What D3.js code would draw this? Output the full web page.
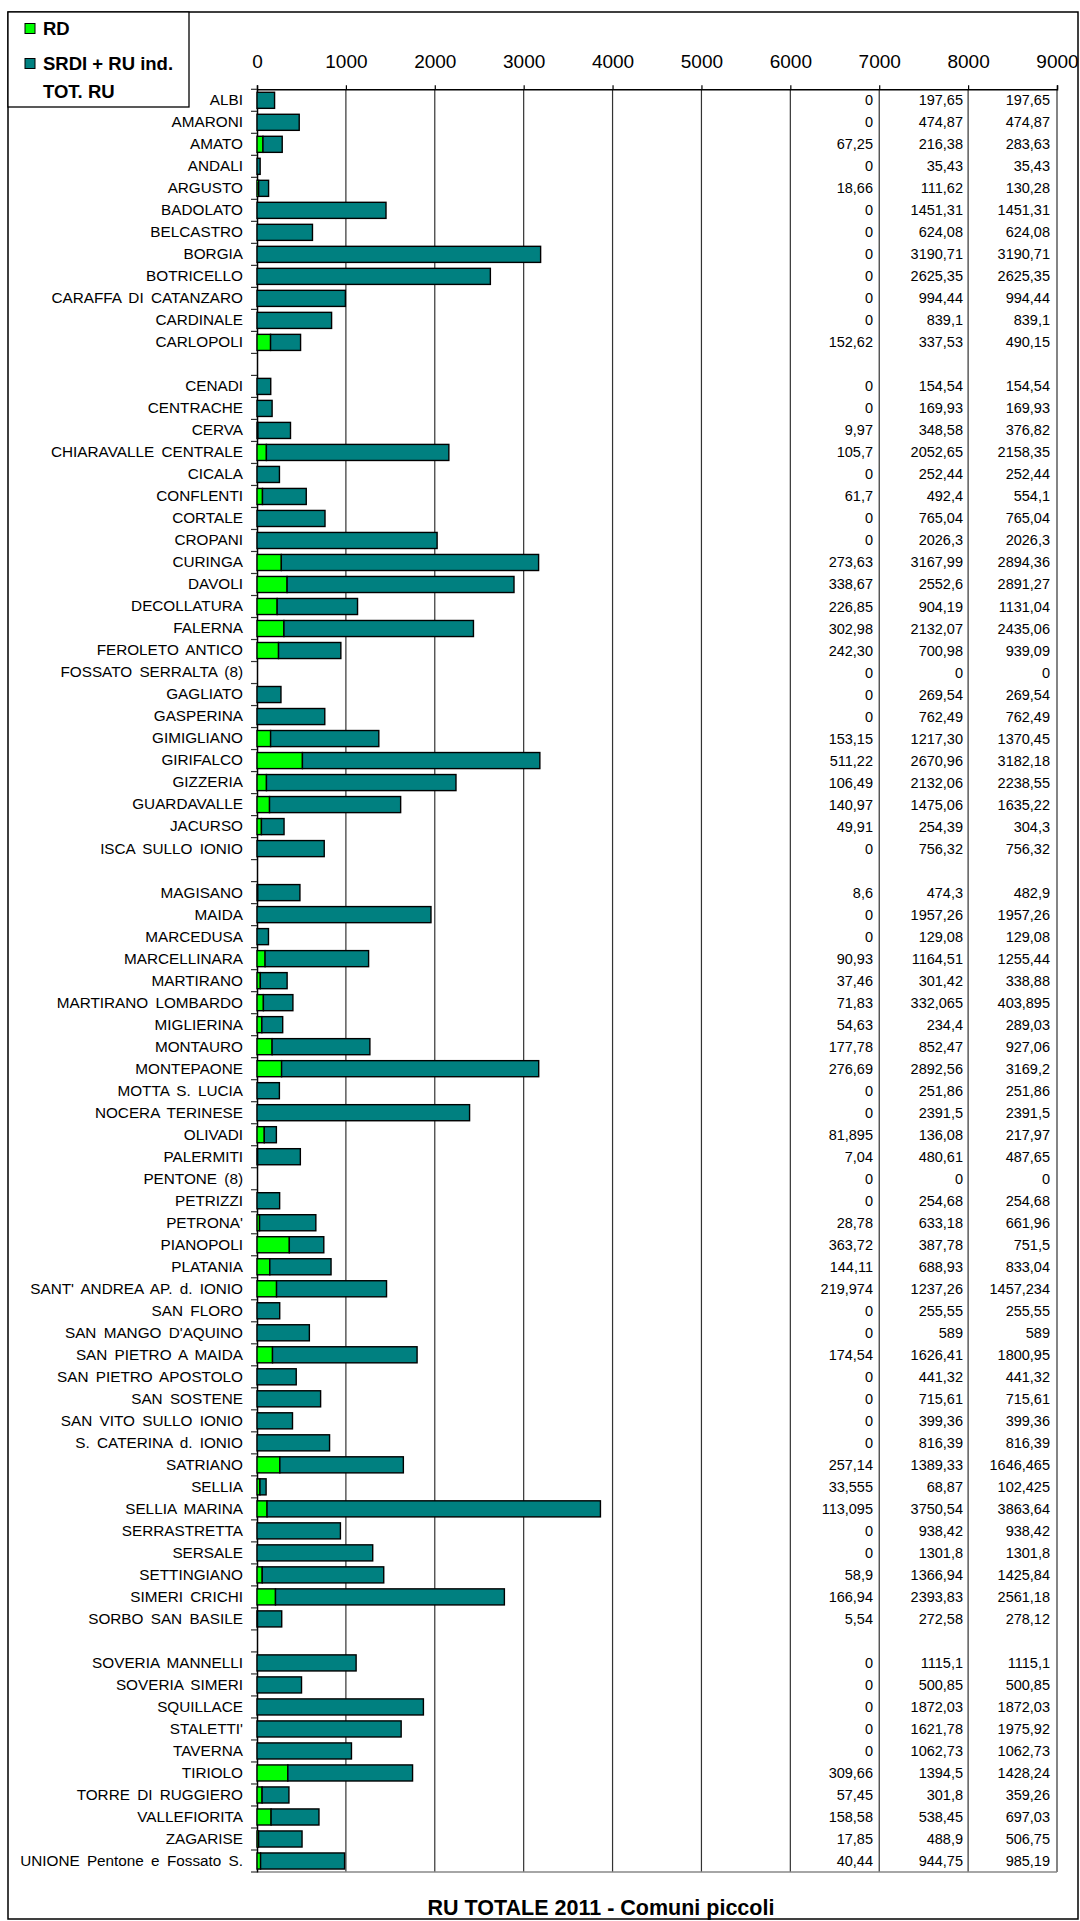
<!DOCTYPE html>
<html><head><meta charset="utf-8">
<script src="https://cdn.jsdelivr.net/npm/d3@7"></script>
<style>
body{margin:0;background:#fff}
svg{display:block}
text{font-family:"Liberation Sans",Arial,sans-serif;fill:#000}
</style>
</head><body>
<svg id="chart" width="1080" height="1921"></svg>
<script>
const categories = ["ALBI","AMARONI","AMATO","ANDALI","ARGUSTO","BADOLATO","BELCASTRO","BORGIA","BOTRICELLO","CARAFFA DI CATANZARO","CARDINALE","CARLOPOLI","",
"CENADI","CENTRACHE","CERVA","CHIARAVALLE CENTRALE","CICALA","CONFLENTI","CORTALE","CROPANI","CURINGA","DAVOLI","DECOLLATURA","FALERNA","FEROLETO ANTICO","FOSSATO SERRALTA (8)","GAGLIATO","GASPERINA","GIMIGLIANO","GIRIFALCO","GIZZERIA","GUARDAVALLE","JACURSO","ISCA SULLO IONIO","",
"MAGISANO","MAIDA","MARCEDUSA","MARCELLINARA","MARTIRANO","MARTIRANO LOMBARDO","MIGLIERINA","MONTAURO","MONTEPAONE","MOTTA S. LUCIA","NOCERA TERINESE","OLIVADI","PALERMITI","PENTONE (8)","PETRIZZI","PETRONA'","PIANOPOLI","PLATANIA","SANT' ANDREA AP. d. IONIO","SAN FLORO","SAN MANGO D'AQUINO","SAN PIETRO A MAIDA","SAN PIETRO APOSTOLO","SAN SOSTENE","SAN VITO SULLO IONIO","S. CATERINA d. IONIO","SATRIANO","SELLIA","SELLIA MARINA","SERRASTRETTA","SERSALE","SETTINGIANO","SIMERI CRICHI","SORBO SAN BASILE","",
"SOVERIA MANNELLI","SOVERIA SIMERI","SQUILLACE","STALETTI'","TAVERNA","TIRIOLO","TORRE DI RUGGIERO","VALLEFIORITA","ZAGARISE","UNIONE Pentone e Fossato S."];

// bar segment lengths (as drawn)
const rdValues = [0,0,67.25,0,18.66,0,0,0,0,0,0,152.62,null,
0,0,9.97,105.7,0,61.7,0,0,273.63,338.67,226.85,302.98,242.3,0,0,0,153.15,511.22,106.49,140.97,49.91,0,null,
8.6,0,0,90.93,37.46,71.83,54.63,170,276.69,0,0,81.895,7.04,0,0,28.78,363.72,144.11,219.974,0,0,174.54,0,0,0,0,257.14,33.555,113.095,0,0,58.9,208,5.54,null,
0,0,0,0,0,347,57.45,158.58,17.85,40.44];
const srdiValues = [197.65,474.87,216.38,35.43,111.62,1451.31,624.08,3190.71,2625.35,994.44,839.1,337.53,null,
154.54,169.93,366.85,2052.65,252.44,492.4,765.04,2026.3,2894.36,2552.6,904.19,2132.07,700.98,0,269.54,762.49,1217.3,2670.96,2132.06,1475.06,254.39,756.32,null,
474.3,1957.26,129.08,1164.51,301.42,332.065,234.4,1100,2892.56,251.86,2391.5,136.08,480.61,0,254.68,633.18,387.78,688.93,1237.26,255.55,589,1626.41,441.32,715.61,399.36,816.39,1389.33,68.87,3750.54,938.42,1301.8,1366.94,2575,272.58,null,
1115.1,500.85,1872.03,1621.78,1062.73,1403,301.8,538.45,488.9,944.75];

// printed value columns
const rdLabels = ["0","0","67,25","0","18,66","0","0","0","0","0","0","152,62","",
"0","0","9,97","105,7","0","61,7","0","0","273,63","338,67","226,85","302,98","242,30","0","0","0","153,15","511,22","106,49","140,97","49,91","0","",
"8,6","0","0","90,93","37,46","71,83","54,63","177,78","276,69","0","0","81,895","7,04","0","0","28,78","363,72","144,11","219,974","0","0","174,54","0","0","0","0","257,14","33,555","113,095","0","0","58,9","166,94","5,54","",
"0","0","0","0","0","309,66","57,45","158,58","17,85","40,44"];
const srdiLabels = ["197,65","474,87","216,38","35,43","111,62","1451,31","624,08","3190,71","2625,35","994,44","839,1","337,53","",
"154,54","169,93","348,58","2052,65","252,44","492,4","765,04","2026,3","3167,99","2552,6","904,19","2132,07","700,98","0","269,54","762,49","1217,30","2670,96","2132,06","1475,06","254,39","756,32","",
"474,3","1957,26","129,08","1164,51","301,42","332,065","234,4","852,47","2892,56","251,86","2391,5","136,08","480,61","0","254,68","633,18","387,78","688,93","1237,26","255,55","589","1626,41","441,32","715,61","399,36","816,39","1389,33","68,87","3750,54","938,42","1301,8","1366,94","2393,83","272,58","",
"1115,1","500,85","1872,03","1621,78","1062,73","1394,5","301,8","538,45","488,9","944,75"];
const totLabels = ["197,65","474,87","283,63","35,43","130,28","1451,31","624,08","3190,71","2625,35","994,44","839,1","490,15","",
"154,54","169,93","376,82","2158,35","252,44","554,1","765,04","2026,3","2894,36","2891,27","1131,04","2435,06","939,09","0","269,54","762,49","1370,45","3182,18","2238,55","1635,22","304,3","756,32","",
"482,9","1957,26","129,08","1255,44","338,88","403,895","289,03","927,06","3169,2","251,86","2391,5","217,97","487,65","0","254,68","661,96","751,5","833,04","1457,234","255,55","589","1800,95","441,32","715,61","399,36","816,39","1646,465","102,425","3863,64","938,42","1301,8","1425,84","2561,18","278,12","",
"1115,1","500,85","1872,03","1975,92","1062,73","1428,24","359,26","697,03","506,75","985,19"];

const tickValues = [0,1000,2000,3000,4000,5000,6000,7000,8000,9000];
const seriesNames = ["RD","SRDI + RU ind.","TOT. RU"];
const seriesColors = ["#00FF00","#008080",null];
const chartTitle = "RU TOTALE 2011 - Comuni piccoli";

const svg = d3.select("#chart");
const x0 = 257, x1 = 1057, yTop = 89.3, yBot = 1872;

const x = d3.scaleLinear().domain([0, 9000]).range([x0, x1]);
const idx = categories.map((c, i) => i);
const y = d3.scaleBand().domain(idx).range([yTop, yBot]).paddingInner(0.27).paddingOuter(0.135);

// outer frame
svg.append("rect").attr("x", 8).attr("y", 12).attr("width", 1070).attr("height", 1907)
  .attr("fill", "none").attr("stroke", "#000").attr("stroke-width", 1.5);

// gridlines
svg.append("g").selectAll("line").data(tickValues.slice(1)).join("line")
  .attr("x1", d => x(d)).attr("x2", d => x(d)).attr("y1", yTop).attr("y2", yBot)
  .attr("stroke", "#333").attr("stroke-width", 1.2);

// bottom border
svg.append("line").attr("x1", x0).attr("x2", x1).attr("y1", yBot).attr("y2", yBot)
  .attr("stroke", "#888").attr("stroke-width", 1.5);

// top axis
const topAxis = svg.append("g").attr("transform", `translate(0,${yTop})`)
  .call(d3.axisTop(x).tickValues(tickValues).tickSize(4).tickPadding(17).tickFormat(d3.format("d")));
topAxis.select(".domain").attr("stroke", "#000").attr("stroke-width", 1.5);
topAxis.selectAll(".tick line").attr("stroke", "#000").attr("stroke-width", 1.2);
topAxis.selectAll("text").style("font-size", "19px").attr("fill", "#000");

// left axis (labels)
const leftAxis = svg.append("g").attr("transform", `translate(${x0},0)`)
  .call(d3.axisLeft(y).tickSize(0).tickPadding(14).tickFormat(i => categories[i]));
leftAxis.select(".domain").attr("stroke", "#000").attr("stroke-width", 1.5);
leftAxis.selectAll("text").style("font-size", "15.3px").style("word-spacing", "3px").attr("fill", "#111");

// category boundary ticks
const step = y.step();
const bounds = d3.range(categories.length + 1).map(k => yTop + k * step);
svg.append("g").selectAll("line").data(bounds).join("line")
  .attr("x1", x0 - 6).attr("x2", x0).attr("y1", d => d).attr("y2", d => d)
  .attr("stroke", "#333").attr("stroke-width", 1.2);

// stacked bars
const rows = categories.map((c, i) => ({ i, rd: rdValues[i] || 0, srdi: srdiValues[i] || 0 }));
const stack = d3.stack().keys(["rd", "srdi"])(rows);
svg.append("g").selectAll("g").data(stack).join("g")
  .attr("fill", (s, k) => seriesColors[k])
  .selectAll("rect").data(s => s.filter(d => d[1] - d[0] > 0)).join("rect")
  .attr("x", d => x(d[0])).attr("width", d => x(d[1]) - x(d[0]))
  .attr("y", d => y(d.data.i)).attr("height", y.bandwidth())
  .attr("stroke", "#000").attr("stroke-width", 1.4);

// value columns
const colRight = [873, 963, 1050];
[rdLabels, srdiLabels, totLabels].forEach((labels, k) => {
  svg.append("g").selectAll("text").data(labels).join("text")
    .attr("x", colRight[k]).attr("y", (d, i) => y(i) + y.bandwidth() / 2)
    .attr("text-anchor", "end").attr("dominant-baseline", "central")
    .style("font-size", "14.5px").text(d => d);
});

// legend box
svg.append("rect").attr("x", 8).attr("y", 12).attr("width", 181).attr("height", 95)
  .attr("fill", "#fff").attr("stroke", "#000").attr("stroke-width", 1.3);
const legendY = [28.5, 63.5, 91];
seriesNames.forEach((name, k) => {
  if (seriesColors[k]) {
    svg.append("rect").attr("x", 25).attr("y", legendY[k] - 5).attr("width", 10).attr("height", 10)
      .attr("fill", seriesColors[k]).attr("stroke", "#000").attr("stroke-width", 1);
  }
  svg.append("text").attr("x", 43).attr("y", legendY[k]).attr("dominant-baseline", "central")
    .style("font-size", "18.5px").style("font-weight", "bold").text(name);
});

// title
svg.append("text").attr("x", 601).attr("y", 1915).attr("text-anchor", "middle")
  .style("font-size", "21.5px").style("font-weight", "bold").text(chartTitle);
</script>
</body></html>
